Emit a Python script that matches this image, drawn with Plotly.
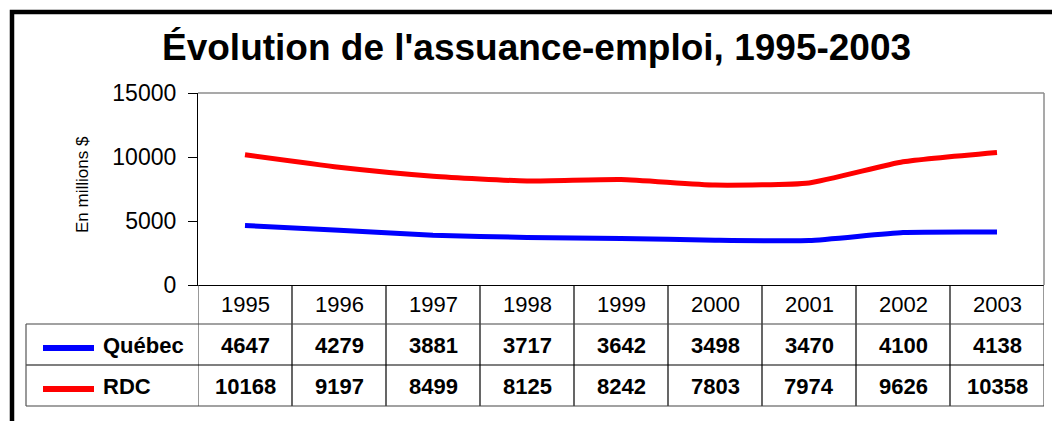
import plotly.graph_objects as go

years = ["1995", "1996", "1997", "1998", "1999", "2000", "2001", "2002", "2003"]
quebec = [4647, 4279, 3881, 3717, 3642, 3498, 3470, 4100, 4138]
rdc = [10168, 9197, 8499, 8125, 8242, 7803, 7974, 9626, 10358]
series_names = ["Québec", "RDC"]
series_colors = ["#0000FF", "#FF0000"]
title_text = "Évolution de l'assuance-emploi, 1995-2003"
y_title = "En millions $"
y_ticks = [0, 5000, 10000, 15000]

# page body has an 8px margin: work in page pixels and shift into figure pixels
OFF = 8
W, H = 1060 - OFF, 421 - OFF
L, R, T, B = 198 - OFF, 1044 - OFF, 93 - OFF, 285 - OFF
PW, PH = R - L, B - T
FONT = "Liberation Sans"


def px(x):
    return (x - OFF - L) / PW


def py(y):
    return (B - (y - OFF)) / PH


fig = go.Figure()
for name, vals, col in zip(series_names, [quebec, rdc], series_colors):
    fig.add_trace(go.Scatter(x=list(range(len(years))), y=vals, mode="lines", name=name,
                             line=dict(color=col, width=5, shape="spline", smoothing=0.5),
                             showlegend=False, hoverinfo="x+y"))

shapes = []
# outer thick frame
shapes.append(dict(type="rect", xref="paper", yref="paper", x0=px(12), x1=px(1120), y0=py(480), y1=py(12),
                   line=dict(color="black", width=4.5), layer="above"))
# plot border top & right (gray)
shapes.append(dict(type="line", xref="paper", yref="paper", x0=0, x1=1, y0=1, y1=1,
                   line=dict(color="#8c8c8c", width=1.5)))
shapes.append(dict(type="line", xref="paper", yref="paper", x0=1, x1=1, y0=0, y1=1,
                   line=dict(color="#8c8c8c", width=1.5)))
# table vertical lines
for i in range(len(years) + 1):
    shapes.append(dict(type="line", xref="x", yref="paper", x0=i - 0.5, x1=i - 0.5, y0=py(406), y1=py(285),
                       line=dict(color="black" if 0 < i < len(years) else "#555555", width=1.2)))
# table horizontal lines
for yy in [324, 365, 406]:
    shapes.append(dict(type="line", xref="paper", yref="paper", x0=px(26), x1=1, y0=py(yy), y1=py(yy),
                       line=dict(color="#444444" if yy != 365 else "black", width=1.2)))
shapes.append(dict(type="line", xref="paper", yref="paper", x0=px(26), x1=px(26), y0=py(406), y1=py(324),
                   line=dict(color="#555555", width=1.2)))

annotations = []
annotations.append(dict(text=title_text, xref="paper", yref="paper", x=px(536), y=py(47), showarrow=False,
                        xanchor="center", yanchor="middle",
                        font=dict(family=FONT, size=37, color="black", weight="bold")))
annotations.append(dict(text=y_title, xref="paper", yref="paper", x=px(82), y=py(185), showarrow=False,
                        textangle=-90, xanchor="center", yanchor="middle",
                        font=dict(family=FONT, size=17, color="black")))
for i, yr in enumerate(years):
    annotations.append(dict(text=yr, xref="x", yref="paper", x=i, y=py(304), showarrow=False,
                            xanchor="center", yanchor="middle", font=dict(family=FONT, size=22, color="black")))
rows_y = [345, 386]
for vals, ry, name, col in zip([quebec, rdc], rows_y, series_names, series_colors):
    for i, v in enumerate(vals):
        annotations.append(dict(text=str(v), xref="x", yref="paper", x=i, y=py(ry), showarrow=False,
                                xanchor="center", yanchor="middle",
                                font=dict(family=FONT, size=22, color="black", weight="bold")))
    annotations.append(dict(text=name, xref="paper", yref="paper", x=px(101), y=py(ry), showarrow=False,
                            xanchor="left", yanchor="middle",
                            font=dict(family=FONT, size=22, color="black", weight="bold")))
    shapes.append(dict(type="line", xref="paper", yref="paper", x0=px(43), x1=px(94), y0=py(ry + 3), y1=py(ry + 3),
                       line=dict(color=col, width=6)))

fig.update_layout(
    width=W, height=H,
    margin=dict(l=L, r=W - R, t=T, b=H - B, pad=0),
    paper_bgcolor="white", plot_bgcolor="white",
    shapes=shapes, annotations=annotations,
    xaxis=dict(range=[-0.5, len(years) - 0.5], showticklabels=False, ticks="", showgrid=False,
               zeroline=False, showline=True, linecolor="black", linewidth=1.2, fixedrange=True),
    yaxis=dict(range=[0, 15000], tickvals=y_ticks, ticktext=[str(t) for t in y_ticks], ticks="outside",
               ticklen=9, tickcolor="black", tickwidth=1, showgrid=False, zeroline=False,
               showline=True, linecolor="black", linewidth=1.2,
               tickfont=dict(family=FONT, size=23, color="black"), ticklabelstandoff=7, fixedrange=True),
    font=dict(family=FONT),
)

fig.write_html("out.html")
